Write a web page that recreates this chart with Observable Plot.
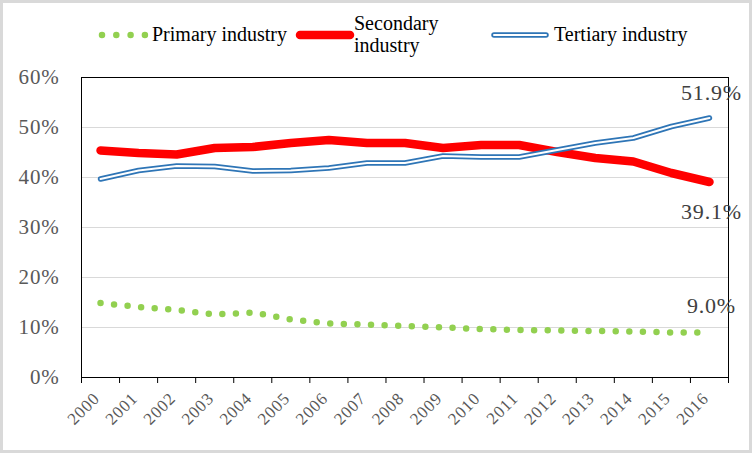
<!DOCTYPE html>
<html><head><meta charset="utf-8">
<script src="https://cdn.jsdelivr.net/npm/d3@7"></script>
<script src="https://cdn.jsdelivr.net/npm/@observablehq/plot@0.6"></script>
<style>
body{margin:0;background:#fff;}
#wrap{position:relative;width:752px;height:453px;overflow:hidden;background:#fff;}
#chart{position:absolute;left:0;top:0;}
#chart svg text{font-family:"Liberation Serif",serif;letter-spacing:0.8px;}
#legend{position:absolute;left:0;top:0;}
#border{position:absolute;left:0;top:0;width:752px;height:453px;box-sizing:border-box;border:3px solid #d9d9d9;pointer-events:none;}
</style></head><body>
<div id="wrap"><div id="chart"></div><svg id="legend" width="752" height="70"></svg><div id="border"></div></div>
<script>
const years = [2000,2001,2002,2003,2004,2005,2006,2007,2008,2009,2010,2011,2012,2013,2014,2015,2016];
const primary   = [14.9,14.1,13.5,12.6,13.0,11.6,10.8,10.6,10.3,10.0,9.7,9.5,9.4,9.3,9.2,9.0,9.0];
const secondary = [45.4,44.9,44.6,45.9,46.1,46.9,47.5,46.9,46.9,45.9,46.5,46.5,45.1,43.9,43.2,40.9,39.1];
const tertiary  = [39.7,41.4,42.3,42.2,41.3,41.4,41.9,42.9,42.9,44.3,44.1,44.1,45.5,46.9,47.9,50.2,51.9];
const yTicks = [0,10,20,30,40,50,60];
const seriesNames = ["Primary industry","Secondary\nindustry","Tertiary industry"];
const colors = {primary:"#92d050", secondary:"#ff0000", tertiary:"#2e75b6"};

const data = years.map((y,i)=>({year:y, primary:primary[i], secondary:secondary[i], tertiary:tertiary[i]}));
const boundaries = d3.range(years[0]-0.5, years[years.length-1]+1, 1);
const last = data[data.length-1];
const fmt = v => v.toFixed(1) + "%";
const serif = "Liberation Serif, serif";

const chart = Plot.plot({
  width: 752, height: 453,
  marginLeft: 81, marginRight: 24, marginTop: 77, marginBottom: 76,
  style: {background: "transparent"},
  x: {domain: [years[0]-0.5, years[years.length-1]+0.5], label: null},
  y: {domain: [0, 60], label: null},
  marks: [
    Plot.gridY(yTicks, {stroke: "#d9d9d9", strokeOpacity: 1}),
    Plot.axisY(yTicks, {tickSize: 0, tickPadding: 22, tickFormat: d => d + "%", fontSize: 21, fill: "#595959", label: null, fontFamily: serif}),
    Plot.axisX(boundaries, {tickSize: 6, tickFormat: () => "", stroke: "#000", label: null}),
    Plot.text(years, {x: d => d, text: d => String(d), frameAnchor: "bottom", dx: 0, dy: 22, rotate: -45, textAnchor: "end", fontSize: 17, fill: "#595959", fontFamily: serif}),
    Plot.lineY(data, {x: "year", y: "primary", stroke: colors.primary, strokeWidth: 6.5, strokeDasharray: "0 13.6", strokeLinecap: "round"}),
    Plot.lineY(data, {x: "year", y: "secondary", stroke: colors.secondary, strokeWidth: 8.5, strokeLinecap: "round", strokeLinejoin: "round"}),
    Plot.lineY(data, {x: "year", y: "tertiary", stroke: colors.tertiary, strokeWidth: 5.5, strokeLinecap: "round", strokeLinejoin: "round"}),
    Plot.lineY(data, {x: "year", y: "tertiary", stroke: "#fff", strokeWidth: 2, strokeLinecap: "round", strokeLinejoin: "round"}),
    Plot.frame({stroke: "#000", strokeWidth: 1}),
    Plot.text([last], {x: "year", y: "tertiary", text: d => fmt(d.tertiary), dx: 2, dy: -25, fontSize: 22, fill: "#404040", fontFamily: serif}),
    Plot.text([last], {x: "year", y: "secondary", text: d => fmt(d.secondary), dx: 2, dy: 30, fontSize: 22, fill: "#404040", fontFamily: serif}),
    Plot.text([last], {x: "year", y: "primary", text: d => fmt(d.primary), dx: 2, dy: -27, fontSize: 22, fill: "#404040", fontFamily: serif})
  ]
});
document.getElementById("chart").appendChild(chart);

// legend
const lg = d3.select("#legend");
const font = "Liberation Serif";
lg.append("line").attr("x1",102).attr("x2",145).attr("y1",35).attr("y2",35)
  .attr("stroke",colors.primary).attr("stroke-width",6.5).attr("stroke-linecap","round").attr("stroke-dasharray","0 14.3");
lg.append("text").attr("x",152).attr("y",41).attr("font-family",font).attr("font-size",20).text(seriesNames[0]);
lg.append("line").attr("x1",300).attr("x2",350).attr("y1",35).attr("y2",35)
  .attr("stroke",colors.secondary).attr("stroke-width",8.5).attr("stroke-linecap","round");
const t2 = lg.append("text").attr("x",354).attr("y",30).attr("font-family",font).attr("font-size",20);
seriesNames[1].split("\n").forEach((s,i)=>t2.append("tspan").attr("x",354).attr("dy", i? 22:0).text(s));
lg.append("line").attr("x1",494).attr("x2",546).attr("y1",35).attr("y2",35)
  .attr("stroke",colors.tertiary).attr("stroke-width",5.5).attr("stroke-linecap","round");
lg.append("line").attr("x1",494).attr("x2",546).attr("y1",35).attr("y2",35)
  .attr("stroke","#fff").attr("stroke-width",2).attr("stroke-linecap","round");
lg.append("text").attr("x",554).attr("y",41).attr("font-family",font).attr("font-size",20).text(seriesNames[2]);
</script>
</body></html>
